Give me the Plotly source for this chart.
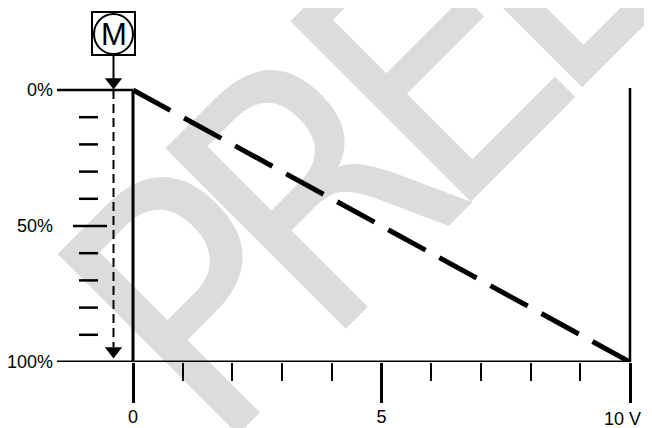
import plotly.graph_objects as go

# ---------------- data ----------------
x_ticks_major = [0, 5, 10]
x_tick_labels = ["0", "5", "10 V"]
x_ticks_minor = [1, 2, 3, 4, 6, 7, 8, 9]
y_ticks_major = [0, 50, 100]
y_tick_labels = ["0%", "50%", "100%"]
scale_marks_minor = [10, 20, 30, 40, 60, 70, 80, 90]
scale_marks_major = [50]
signal_v = [0, 10]          # volts
signal_pct = [0, 100]       # percent
v_min, v_max = 0, 10
p_min, p_max = 0, 100
watermark_letters = ["P", "R", "E", "L"]

# ---------------- layout geometry (reference pixels) ----------------
OFF = 8                      # page body margin of the html page
W, H = 652 - OFF, 428 - OFF  # figure size
PL, PR, PT, PB = 57, 652, OFF, 362   # plot area in reference pixels
X0PX, X10PX = 133.0, 630.0
Y0PX, Y100PX = 90.0, 362.0
XS = (X10PX - X0PX) / (v_max - v_min)
YS = (Y100PX - Y0PX) / (p_max - p_min)


def px2x(px):
    return v_min + (px - X0PX) / XS


def py2y(py):
    return p_min + (py - Y0PX) / YS


def ppx(px):
    return (px - PL) / (PR - PL)


def ppy(py):
    return (PB - py) / (PB - PT)


x_lo, x_hi = px2x(PL), px2x(PR)
y_top, y_bot = py2y(PT), py2y(PB)

FONT = "Liberation Sans Narrow, Arial Narrow, Liberation Sans, Arial, sans-serif"
WM_FONT = ("Noto Sans ExtraCondensed, Noto Sans Condensed, DejaVu Sans Condensed, "
           "Liberation Sans Narrow, Liberation Sans, sans-serif")
BLACK = "#000000"
FS = 18

fig = go.Figure()

# frame lines
fig.add_trace(go.Scatter(x=[x_lo, v_max, None, v_min, v_min], y=[p_max, p_max, None, p_min, p_max],
                         mode="lines", line=dict(color=BLACK, width=3), hoverinfo="skip"))
fig.add_trace(go.Scatter(x=[x_lo, v_min, None, v_max, v_max], y=[p_min, p_min, None, py2y(88), p_max],
                         mode="lines", line=dict(color=BLACK, width=2.5), hoverinfo="skip"))

# scale marks on the left
sx, sy = [], []
for p in scale_marks_minor:
    sx += [px2x(79), px2x(98), None]
    sy += [p, p, None]
for p in scale_marks_major:
    sx += [px2x(73), px2x(107), None]
    sy += [p, p, None]
fig.add_trace(go.Scatter(x=sx, y=sy, mode="lines", line=dict(color=BLACK, width=2.5), hoverinfo="skip"))

# dashed arrow (travel)
ax = px2x(113.5)
fig.add_trace(go.Scatter(x=[ax, ax], y=[p_min, py2y(347)], mode="lines",
                         line=dict(color=BLACK, width=2, dash="9px,5px"), hoverinfo="skip"))
# solid arrow from motor
fig.add_trace(go.Scatter(x=[ax, ax], y=[py2y(56), py2y(80)], mode="lines",
                         line=dict(color=BLACK, width=2), hoverinfo="skip"))
# arrow heads
fig.add_trace(go.Scatter(x=[ax, ax], y=[py2y(351), py2y(82)], mode="markers",
                         marker=dict(symbol="triangle-down", size=15, color=BLACK, line=dict(width=0)),
                         hoverinfo="skip"))

# signal characteristic
fig.add_trace(go.Scatter(x=signal_v, y=signal_pct, mode="lines",
                         line=dict(color=BLACK, width=5, dash="42.5px,15.7px"), hoverinfo="skip"))

shapes = []
# watermark letters (below everything)
WM_SIZE = 350
wm_centers = [(180, 286), (298, 170), (416, 50), (519, -56)]
for letter, (cx, cy) in zip(watermark_letters, wm_centers):
    shapes.append(dict(type="line", xref="paper", yref="paper",
                       x0=ppx(cx - 1), x1=ppx(cx + 1), y0=ppy(cy), y1=ppy(cy),
                       line=dict(color="rgba(0,0,0,0)", width=0), layer="below",
                       label=dict(text=letter, textangle=-45, textposition="middle",
                                  xanchor="center", yanchor="middle", padding=0,
                                  font=dict(family=WM_FONT, size=WM_SIZE, weight=500,
                                            color="rgb(220,220,220)"))))
# motor symbol
shapes.append(dict(type="rect", xref="x", yref="y", x0=px2x(92), x1=px2x(135), y0=py2y(12), y1=py2y(55),
                   line=dict(color=BLACK, width=2), layer="above"))
shapes.append(dict(type="circle", xref="x", yref="y", x0=px2x(94), x1=px2x(133), y0=py2y(14), y1=py2y(54),
                   line=dict(color=BLACK, width=2), layer="above"))

# tick labels: the last one is placed as an annotation so that it stays inside the page
axis_ticktext = x_tick_labels[:-1] + [""]
annotations = [
    dict(x=px2x(113.5), y=py2y(34), xref="x", yref="y", text="M", showarrow=False,
         font=dict(family="Liberation Sans, Arial, sans-serif", size=31, color=BLACK),
         xanchor="center", yanchor="middle"),
    dict(x=x_ticks_major[-1], y=ppy(419), xref="x", yref="paper", text=x_tick_labels[-1], showarrow=False,
         font=dict(family=FONT, size=FS, color=BLACK), xanchor="right", yanchor="middle", xshift=13),
]

fig.update_layout(
    width=W, height=H,
    margin=dict(l=PL - OFF, r=0, t=0, b=H - (PB - OFF), pad=0, autoexpand=False),
    paper_bgcolor="white", plot_bgcolor="rgba(0,0,0,0)",
    showlegend=False,
    font=dict(family=FONT, size=FS, color=BLACK),
    shapes=shapes,
    annotations=annotations,
    xaxis=dict(range=[x_lo, x_hi], showgrid=False, zeroline=False, showline=False, automargin=False,
               tickmode="array", tickvals=x_ticks_major, ticktext=axis_ticktext,
               ticks="outside", ticklen=40, tickwidth=2.5, tickcolor=BLACK,
               ticklabelstandoff=-2,
               minor=dict(tickmode="array", tickvals=x_ticks_minor, ticks="outside",
                          ticklen=18, tickwidth=2, tickcolor=BLACK, showgrid=False),
               fixedrange=True),
    yaxis=dict(range=[y_bot, y_top], showgrid=False, zeroline=False, showline=False, automargin=False,
               tickmode="array", tickvals=y_ticks_major, ticktext=y_tick_labels,
               ticks="", ticklabelstandoff=3, fixedrange=True),
)

fig.write_html("out.html")
